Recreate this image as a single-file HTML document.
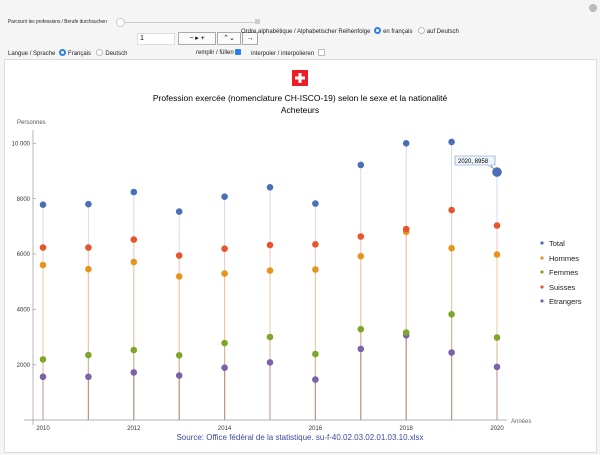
<!DOCTYPE html>
<html><head><meta charset="utf-8"><style>
body{margin:0;width:600px;height:455px;background:#f5f5f5;font-family:"Liberation Sans",sans-serif;position:relative;overflow:hidden}
.t{position:absolute;font-size:6px;color:#222;white-space:nowrap}
.rad{display:inline-block;width:5px;height:5px;border-radius:50%;border:1px solid #bbb;background:#fff;vertical-align:-1px;margin:0 2px}
.rad.on{border:2px solid #2a7ef0;width:3px;height:3px}
.btn{position:absolute;height:11px;border:1px solid #aaa;background:#fafafa;font-size:7px;text-align:center;line-height:11px}
</style></head><body>
<div class="t" style="left:8px;top:19px;font-size:5.6px;transform:scaleX(0.85);transform-origin:left">Parcourir les professions / Berufe durchsuchen</div>
<div style="position:absolute;left:118px;top:22px;width:138px;height:1px;background:#ccc"></div>
<div style="position:absolute;left:116px;top:18px;width:7px;height:7px;border-radius:50%;background:#fff;border:1px solid #ccc"></div>
<div style="position:absolute;left:255px;top:19px;width:5px;height:5px;background:#ccc"></div>
<div style="position:absolute;left:137px;top:33px;width:34px;height:10px;background:#fff;border:1px solid #ddd;font-size:7px;line-height:10px;padding-left:2px">1</div>
<div class="btn" style="left:178px;top:32px;width:36px">− ▸ +</div>
<div class="btn" style="left:217px;top:32px;width:22px">⌃⌄</div>
<div class="btn" style="left:242px;top:32px;width:14px">→</div>
<div class="t" style="left:241px;top:27px">Ordre alphabétique / Alphabetischer Reihenfolge <span class="rad on"></span>en français &nbsp;<span class="rad"></span>auf Deutsch</div>
<div class="t" style="left:8px;top:49px">Langue / Sprache <span class="rad on"></span>Français &nbsp;<span class="rad"></span>Deutsch</div>
<div class="t" style="left:196px;top:49px">remplir / füllen <span style="display:inline-block;width:6px;height:6px;background:#2a7ef0;border-radius:1px;vertical-align:-1px"></span></div>
<div class="t" style="left:251px;top:49px">interpoler / interpolieren <span class="rad" style="border-radius:1px"></span></div>
<div style="position:absolute;left:589px;top:4px;width:8px;height:8px;border-radius:50%;background:#bbb"></div>
<div style="position:absolute;left:4px;top:59px;width:591px;height:392px;background:#fff;border:1px solid #ddd"></div>
<svg style="position:absolute;left:0;top:0" width="600" height="455">
<rect x="292" y="70" width="16" height="16" fill="#ee1c25"/>
<rect x="298.5" y="73" width="3" height="10" fill="#fff"/><rect x="295" y="76.5" width="10" height="3" fill="#fff"/>
<g font-family="Liberation Sans" fill="#000" text-anchor="middle">
<text x="300" y="101" font-size="8.5">Profession exercée (nomenclature CH-ISCO-19) selon le sexe et la nationalité</text>
<text x="300" y="113" font-size="8.5">Acheteurs</text></g>
<text x="17" y="124" font-size="6" fill="#555" font-family="Liberation Sans">Personnes</text>
<g id="stems" stroke-width="1"></g>
<line x1="33" y1="130" x2="33" y2="425" stroke="#999" stroke-width="0.7"/>
<line x1="24" y1="420" x2="507" y2="420" stroke="#999" stroke-width="0.7"/>
<g stroke="#999" stroke-width="0.7">
<line x1="33" y1="364.7" x2="36" y2="364.7"/><line x1="33" y1="309.3" x2="36" y2="309.3"/><line x1="33" y1="254" x2="36" y2="254"/><line x1="33" y1="198.6" x2="36" y2="198.6"/><line x1="33" y1="143.3" x2="36" y2="143.3"/>
</g>
<g font-family="Liberation Sans" font-size="6" fill="#333" text-anchor="end">
<text x="30" y="367">2000</text><text x="30" y="311.5">4000</text><text x="30" y="256">6000</text><text x="30" y="201">8000</text><text x="30" y="145.5">10 000</text></g>
<g font-family="Liberation Sans" font-size="6" fill="#333" text-anchor="middle">
<text x="43" y="430">2010</text><text x="133.8" y="430">2012</text><text x="224.6" y="430">2014</text><text x="315.4" y="430">2016</text><text x="406.2" y="430">2018</text><text x="497" y="430">2020</text></g>
<text x="511" y="423" font-family="Liberation Sans" font-size="6" fill="#666">Années</text>
<g id="dots"></g>
<path d="M455,156 h40 v9 h-4 l3,4 l-6,-4 h-33 z" fill="#eef4fb" stroke="#6d8fc4" stroke-width="0.6"/>
<text x="458" y="163" font-family="Liberation Sans" font-size="6" fill="#000">2020, 8958</text>
<g font-family="Liberation Sans" font-size="7.5" fill="#222">
<circle cx="542" cy="243" r="1.6" fill="#4a6fb5"/><text x="549" y="246">Total</text>
<circle cx="542" cy="258" r="1.6" fill="#e6941f"/><text x="549" y="261">Hommes</text>
<circle cx="542" cy="272" r="1.6" fill="#7fa52a"/><text x="549" y="275">Femmes</text>
<circle cx="542" cy="287" r="1.6" fill="#e8552c"/><text x="549" y="290">Suisses</text>
<circle cx="542" cy="301" r="1.6" fill="#7b62a8"/><text x="549" y="304">Etrangers</text></g>
<text x="300" y="440" text-anchor="middle" font-family="Liberation Sans" font-size="8" fill="#3b4aa0">Source: Office fédéral de la statistique. su-f-40.02.03.02.01.03.10.xlsx</text>
</svg>
<script>
var X=[43,88.4,133.8,179.2,224.6,270,315.4,360.8,406.2,451.6,497];
var S=[["#4a6fb5","#d2dcf0",[204.7,204.2,192,211.6,196.7,187.3,203.6,164.9,143.3,141.9,172.1]],
["#e8552c","#f2cabc",[247.6,247.6,239.6,255.6,248.7,245.1,244.3,236.5,229.1,210,225.5]],
["#e6941f","#ecc9a6",[265,269.2,262,276.4,273.6,270.6,269.5,256.2,231.8,248.2,254.5]],
["#7fa52a","#d0b692",[359.4,355,350,355.3,343.1,337,354.1,329.2,332.6,314.3,337.5]],
["#7b62a8","#b89484",[376.8,376.8,372.4,375.5,367.7,362.4,379.6,348.9,335.3,352.5,366.9]]];
var st="",dt="";
S.forEach(function(s){s[2].forEach(function(y,i){st+='<line x1="'+X[i]+'" y1="420" x2="'+X[i]+'" y2="'+y+'" stroke="'+s[1]+'"/>';});});
S.slice().reverse().forEach(function(s,k){s[2].forEach(function(y,i){var r=(k==4&&i==10)?4.8:3.3;dt+='<circle cx="'+X[i]+'" cy="'+y+'" r="'+r+'" fill="'+s[0]+'"/>';});});
document.getElementById("stems").innerHTML=st;document.getElementById("dots").innerHTML=dt;
</script>
</body></html>
